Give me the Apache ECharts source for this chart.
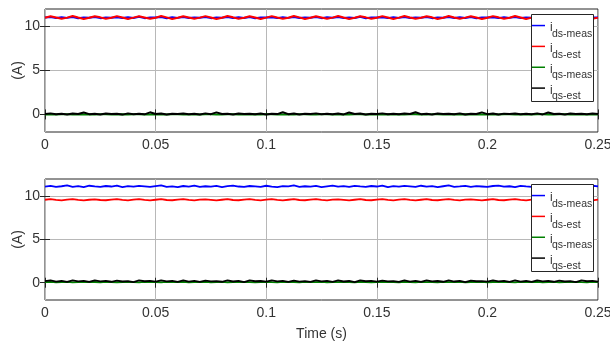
<!DOCTYPE html>
<html>
<head>
<meta charset="utf-8">
<script src="https://cdn.jsdelivr.net/npm/echarts@6/dist/echarts.min.js"></script>
<style>
  html, body { margin: 0; padding: 0; background: #fff; }
  #chart { width: 610px; height: 341px; }
</style>
</head>
<body>
<div id="chart"></div>
<script>
// Sample times (s)
const timeS = [
  0.0000, 0.0025, 0.0050, 0.0075, 0.0100, 0.0125, 0.0150, 0.0175, 0.0200, 0.0225,
  0.0250, 0.0275, 0.0300, 0.0325, 0.0350, 0.0375, 0.0400, 0.0425, 0.0450, 0.0475,
  0.0500, 0.0525, 0.0550, 0.0575, 0.0600, 0.0625, 0.0650, 0.0675, 0.0700, 0.0725,
  0.0750, 0.0775, 0.0800, 0.0825, 0.0850, 0.0875, 0.0900, 0.0925, 0.0950, 0.0975,
  0.1000, 0.1025, 0.1050, 0.1075, 0.1100, 0.1125, 0.1150, 0.1175, 0.1200, 0.1225,
  0.1250, 0.1275, 0.1300, 0.1325, 0.1350, 0.1375, 0.1400, 0.1425, 0.1450, 0.1475,
  0.1500, 0.1525, 0.1550, 0.1575, 0.1600, 0.1625, 0.1650, 0.1675, 0.1700, 0.1725,
  0.1750, 0.1775, 0.1800, 0.1825, 0.1850, 0.1875, 0.1900, 0.1925, 0.1950, 0.1975,
  0.2000, 0.2025, 0.2050, 0.2075, 0.2100, 0.2125, 0.2150, 0.2175, 0.2200, 0.2225,
  0.2250, 0.2275, 0.2300, 0.2325, 0.2350, 0.2375, 0.2400, 0.2425, 0.2450, 0.2475,
  0.2500
];

// Upper panel currents (A)
const topIdsMeas = [
  11.02, 11.08, 10.97, 11.05, 10.99, 11.10, 10.95, 11.04, 11.01, 11.09,
  10.96, 11.03, 11.00, 11.07, 10.98, 11.06, 10.97, 11.11, 10.96, 11.02,
  11.03, 11.08, 10.95, 11.05, 10.99, 11.09, 10.97, 11.04, 11.00, 11.10,
  10.96, 11.03, 11.01, 11.08, 10.98, 11.05, 10.97, 11.09, 10.95, 11.04,
  11.02, 11.07, 10.96, 11.06, 10.99, 11.10, 10.97, 11.03, 11.00, 11.08,
  10.96, 11.05, 11.01, 11.09, 10.98, 11.04, 10.97, 11.11, 10.95, 11.03,
  11.02, 11.07, 10.96, 11.06, 10.99, 11.09, 10.97, 11.04, 11.01, 11.10,
  10.96, 11.03, 11.00, 11.08, 10.98, 11.05, 10.97, 11.09, 10.95, 11.04,
  11.02, 11.07, 10.96, 11.06, 10.99, 11.10, 10.97, 11.03, 11.01, 11.08,
  10.96, 11.05, 11.00, 11.09, 10.98, 11.04, 10.97, 11.11, 10.95, 11.03,
  11.02
];
const topIdsEst = [
  11.00, 11.18, 11.04, 10.88, 11.02, 11.20, 11.03, 10.87, 11.01, 11.17,
  11.05, 10.89, 11.00, 11.19, 11.04, 10.86, 11.02, 11.18, 11.03, 10.88,
  11.01, 11.21, 11.05, 10.87, 11.00, 11.18, 11.04, 10.89, 11.02, 11.19,
  11.03, 10.86, 11.01, 11.20, 11.05, 10.88, 11.00, 11.17, 11.04, 10.87,
  11.02, 11.19, 11.03, 10.89, 11.01, 11.21, 11.05, 10.86, 11.00, 11.18,
  11.04, 10.88, 11.02, 11.20, 11.03, 10.87, 11.01, 11.18, 11.05, 10.89,
  11.00, 11.19, 11.04, 10.86, 11.02, 11.21, 11.03, 10.88, 11.01, 11.17,
  11.05, 10.87, 11.00, 11.20, 11.04, 10.89, 11.02, 11.18, 11.03, 10.86,
  11.01, 11.19, 11.05, 10.88, 11.00, 11.21, 11.04, 10.87, 11.02, 11.18,
  11.03, 10.89, 11.01, 11.20, 11.05, 10.86, 11.00, 11.19, 11.04, 10.88,
  11.02
];
const topIqsMeas = [
  0.00, 0.02, -0.01, 0.01, 0.03, -0.02, 0.01, 0.00, 0.02, -0.01,
  0.01, 0.03, -0.01, 0.00, 0.02, -0.02, 0.01, 0.02, -0.01, 0.00,
  0.03, 0.00, -0.02, 0.01, 0.02, -0.01, 0.00, 0.03, -0.01, 0.01,
  0.02, -0.02, 0.00, 0.01, 0.03, -0.01, 0.01, 0.00, 0.02, -0.02,
  0.01, 0.03, -0.01, 0.00, 0.02, -0.01, 0.01, 0.02, -0.02, 0.00,
  0.03, 0.01, -0.01, 0.02, 0.00, -0.02, 0.01, 0.03, -0.01, 0.00,
  0.02, -0.01, 0.01, 0.00, 0.03, -0.02, 0.01, 0.02, -0.01, 0.00,
  0.01, 0.03, -0.02, 0.00, 0.02, -0.01, 0.01, 0.00, 0.03, -0.01,
  0.00, 0.02, -0.01, 0.01, 0.03, -0.02, 0.00, 0.02, -0.01, 0.01,
  0.02, 0.00, -0.02, 0.01, 0.03, -0.01, 0.00, 0.02, -0.01, 0.01,
  0.00
];
const topIqsEst = [
  0.05, 0.12, 0.02, 0.08, -0.01, 0.10, 0.04, 0.22, 0.03, 0.09,
  0.00, 0.11, 0.05, 0.07, -0.02, 0.12, 0.03, 0.09, 0.01, 0.24,
  0.04, 0.10, -0.01, 0.08, 0.05, 0.11, 0.02, 0.07, 0.00, 0.12,
  0.03, 0.23, 0.04, 0.09, -0.01, 0.10, 0.05, 0.08, 0.02, 0.11,
  0.00, 0.09, 0.04, 0.25, 0.03, 0.10, -0.02, 0.08, 0.05, 0.12,
  0.01, 0.09, 0.03, 0.11, 0.00, 0.22, 0.04, 0.10, -0.01, 0.08,
  0.05, 0.12, 0.02, 0.09, 0.01, 0.11, 0.04, 0.24, 0.03, 0.08,
  -0.01, 0.10, 0.05, 0.09, 0.02, 0.12, 0.00, 0.08, 0.04, 0.23,
  0.03, 0.11, -0.02, 0.09, 0.05, 0.10, 0.01, 0.08, 0.03, 0.12,
  0.00, 0.22, 0.04, 0.09, -0.01, 0.11, 0.05, 0.08, 0.02, 0.10,
  0.04
];

// Lower panel currents (A)
const botIdsMeas = [
  11.12, 11.20, 11.08, 11.16, 11.25, 11.10, 11.18, 11.06, 11.22, 11.14,
  11.09, 11.19, 11.13, 11.24, 11.07, 11.17, 11.11, 11.21, 11.15, 11.08,
  11.18, 11.26, 11.10, 11.14, 11.05, 11.19, 11.12, 11.23, 11.09, 11.16,
  11.11, 11.20, 11.07, 11.17, 11.24, 11.13, 11.08, 11.19, 11.15, 11.10,
  11.22, 11.12, 11.06, 11.18, 11.14, 11.25, 11.09, 11.16, 11.11, 11.20,
  11.07, 11.15, 11.23, 11.12, 11.18, 11.08, 11.21, 11.14, 11.10, 11.19,
  11.13, 11.24, 11.06, 11.17, 11.11, 11.20, 11.15, 11.09, 11.22, 11.12,
  11.18, 11.07, 11.16, 11.25, 11.10, 11.14, 11.21, 11.08, 11.17, 11.13,
  11.09, 11.19, 11.24, 11.11, 11.16, 11.06, 11.20, 11.14, 11.10, 11.23,
  11.12, 11.17, 11.08, 11.21, 11.15, 11.11, 11.19, 11.07, 11.16, 11.22,
  11.14
];
const botIdsEst = [
  9.60, 9.66, 9.58, 9.53, 9.61, 9.67, 9.59, 9.52, 9.60, 9.65,
  9.57, 9.54, 9.62, 9.66, 9.58, 9.53, 9.61, 9.68, 9.59, 9.52,
  9.60, 9.66, 9.57, 9.54, 9.62, 9.67, 9.58, 9.53, 9.61, 9.65,
  9.59, 9.52, 9.60, 9.67, 9.57, 9.54, 9.62, 9.66, 9.58, 9.53,
  9.61, 9.68, 9.59, 9.52, 9.60, 9.66, 9.57, 9.54, 9.62, 9.67,
  9.58, 9.53, 9.61, 9.65, 9.59, 9.52, 9.60, 9.67, 9.57, 9.54,
  9.62, 9.66, 9.58, 9.53, 9.61, 9.68, 9.59, 9.52, 9.60, 9.66,
  9.57, 9.54, 9.62, 9.67, 9.58, 9.53, 9.61, 9.65, 9.59, 9.52,
  9.60, 9.67, 9.57, 9.54, 9.62, 9.66, 9.58, 9.53, 9.61, 9.68,
  9.59, 9.52, 9.60, 9.66, 9.57, 9.54, 9.62, 9.67, 9.58, 9.53,
  9.61
];
const botIqsMeas = [
  0.06, 0.09, 0.05, 0.08, 0.10, 0.04, 0.07, 0.09, 0.06, 0.08,
  0.05, 0.10, 0.07, 0.04, 0.08, 0.09, 0.06, 0.05, 0.10, 0.07,
  0.08, 0.04, 0.09, 0.06, 0.07, 0.10, 0.05, 0.08, 0.06, 0.09,
  0.04, 0.07, 0.10, 0.05, 0.08, 0.06, 0.09, 0.07, 0.04, 0.08,
  0.10, 0.06, 0.05, 0.09, 0.07, 0.08, 0.04, 0.10, 0.06, 0.07,
  0.09, 0.05, 0.08, 0.06, 0.10, 0.07, 0.04, 0.09, 0.08, 0.05,
  0.07, 0.10, 0.06, 0.08, 0.04, 0.09, 0.07, 0.05, 0.10, 0.06,
  0.08, 0.04, 0.09, 0.07, 0.06, 0.10, 0.05, 0.08, 0.07, 0.09,
  0.04, 0.08, 0.06, 0.10, 0.07, 0.05, 0.09, 0.06, 0.08, 0.10,
  0.05, 0.07, 0.09, 0.04, 0.08, 0.06, 0.10, 0.07, 0.05, 0.09,
  0.06
];
const botIqsEst = [
  0.18, 0.27, 0.12, 0.20, 0.10, 0.26, 0.15, 0.22, 0.09, 0.28,
  0.16, 0.21, 0.11, 0.25, 0.14, 0.19, 0.08, 0.27, 0.17, 0.22,
  0.12, 0.26, 0.15, 0.20, 0.09, 0.28, 0.13, 0.21, 0.10, 0.25,
  0.16, 0.19, 0.11, 0.27, 0.14, 0.22, 0.08, 0.26, 0.17, 0.20,
  0.12, 0.28, 0.15, 0.21, 0.10, 0.25, 0.13, 0.19, 0.09, 0.27,
  0.16, 0.22, 0.11, 0.26, 0.14, 0.20, 0.08, 0.28, 0.17, 0.21,
  0.12, 0.25, 0.15, 0.19, 0.10, 0.27, 0.13, 0.22, 0.09, 0.26,
  0.16, 0.20, 0.11, 0.28, 0.14, 0.21, 0.08, 0.25, 0.17, 0.19,
  0.12, 0.27, 0.15, 0.22, 0.10, 0.26, 0.13, 0.20, 0.09, 0.28,
  0.16, 0.21, 0.11, 0.25, 0.14, 0.19, 0.08, 0.27, 0.17, 0.22,
  0.12
];

// Axis ticks
const xTicks = [0, 0.05, 0.1, 0.15, 0.2, 0.25];
const yTicks = [0, 5, 10];
const yRange = [-2, 12];

// Legend entries: key, subscript text, colour
const seriesNames = ['ids-meas', 'ids-est', 'iqs-meas', 'iqs-est'];
const seriesSubs = ['ds-meas', 'ds-est', 'qs-meas', 'qs-est'];
const seriesColors = ['#0000ff', '#ff0000', '#008000', '#000000'];

const FONT = '"Liberation Sans", Arial, Helvetica, sans-serif';
const TEXT = '#333333';

const panels = [
  { top: 9, height: 123, values: [topIdsMeas, topIdsEst, topIqsMeas, topIqsEst], width: 2, legendTop: 11, boxTop: 14, xName: '' },
  { top: 179, height: 121, values: [botIdsMeas, botIdsEst, botIqsMeas, botIqsEst], width: 1.8, legendTop: 181, boxTop: 184, xName: 'Time (s)' }
];

const grid = [], xAxis = [], yAxis = [], series = [], legend = [], graphic = [];

panels.forEach((p, gi) => {
  grid.push({
    left: 45, right: 12, top: p.top, height: p.height,
    show: true, borderColor: '#262626', borderWidth: 1,
    backgroundColor: '#fff', containLabel: false, outerBoundsMode: 'none'
  });
  // bottom x axis with labels and grid lines
  xAxis.push({
    type: 'value', gridIndex: gi, position: 'bottom',
    min: xTicks[0], max: xTicks[xTicks.length - 1], interval: 0.05,
    name: p.xName, nameLocation: 'middle', nameGap: 27, nameMoveOverlap: false,
    nameTextStyle: { fontFamily: FONT, fontSize: 14, color: TEXT },
    axisLine: { show: false },
    axisTick: { show: true, inside: true, length: 5, lineStyle: { color: '#262626' } },
    axisLabel: { show: true, margin: 6, fontFamily: FONT, fontSize: 14, color: TEXT,
      formatter: v => String(+v.toFixed(2)) },
    splitLine: { show: true, lineStyle: { color: '#b8b8b8', width: 1 } }
  });
  // top x axis: inner ticks only
  xAxis.push({
    type: 'value', gridIndex: gi, position: 'top',
    min: xTicks[0], max: xTicks[xTicks.length - 1], interval: 0.05,
    axisLine: { show: false },
    axisTick: { show: true, inside: true, length: 5, lineStyle: { color: '#262626' } },
    axisLabel: { show: false }, splitLine: { show: false }
  });
  // left y axis with labels and grid lines
  yAxis.push({
    type: 'value', gridIndex: gi, position: 'left',
    min: yRange[0], max: yRange[1],
    name: '(A)', nameLocation: 'middle', nameGap: 20, nameRotate: 90, nameMoveOverlap: false,
    nameTextStyle: { fontFamily: FONT, fontSize: 14, color: TEXT },
    axisLine: { show: false },
    axisTick: { show: true, inside: true, length: 5, customValues: yTicks, lineStyle: { color: '#262626' } },
    axisLabel: { show: true, margin: 5, padding: [3, 0, 0, 0], fontFamily: FONT, fontSize: 14, color: TEXT, customValues: yTicks },
    splitLine: { show: true, customValues: yTicks, lineStyle: { color: '#b8b8b8', width: 1 } }
  });
  // right y axis: inner ticks only
  yAxis.push({
    type: 'value', gridIndex: gi, position: 'right',
    min: yRange[0], max: yRange[1],
    axisLine: { show: false },
    axisTick: { show: true, inside: true, length: 5, customValues: yTicks, lineStyle: { color: '#262626' } },
    axisLabel: { show: false, customValues: yTicks }, splitLine: { show: false }
  });

  p.values.forEach((vals, si) => {
    series.push({
      type: 'line', name: seriesNames[si],
      xAxisIndex: gi * 2, yAxisIndex: gi * 2,
      data: vals.map((v, i) => [timeS[i], v]),
      showSymbol: false, symbol: 'none',
      lineStyle: { color: seriesColors[si], width: p.width },
      itemStyle: { color: seriesColors[si] },
      animation: false, z: 3 + si
    });
  });

  // legend frame
  graphic.push({
    type: 'rect', z: 9, silent: true,
    shape: { x: 531.5, y: p.boxTop + 0.5, width: 62, height: 87 },
    style: { fill: '#fff', stroke: '#262626', lineWidth: 1 }
  });

  // legend: "i" on the first line, subscript on the second
  legend.push({
    orient: 'vertical', left: 531, top: p.legendTop,
    data: seriesNames,
    selectedMode: false,
    icon: 'rect', itemWidth: 13, itemHeight: 1.5, itemGap: -6.45,
    padding: [1, 2, 1.5, 1],
    formatter: name => '{i|i}\n{s|' + seriesSubs[seriesNames.indexOf(name)] + '}',
    textStyle: {
      color: TEXT, fontFamily: FONT,
      rich: {
        i: { fontSize: 12, lineHeight: 16.5, padding: [10.1, 0, 0, 0], color: TEXT, fontFamily: FONT },
        s: { fontSize: 10.5, lineHeight: 5, padding: [0, 0, 0, 2], color: TEXT, fontFamily: FONT }
      }
    },
    z: 10
  });
});

const chart = echarts.init(document.getElementById('chart'), null, { renderer: 'canvas' });
chart.setOption({
  backgroundColor: '#fff',
  animation: false,
  grid, xAxis, yAxis, series, legend, graphic
});
</script>
</body>
</html>
